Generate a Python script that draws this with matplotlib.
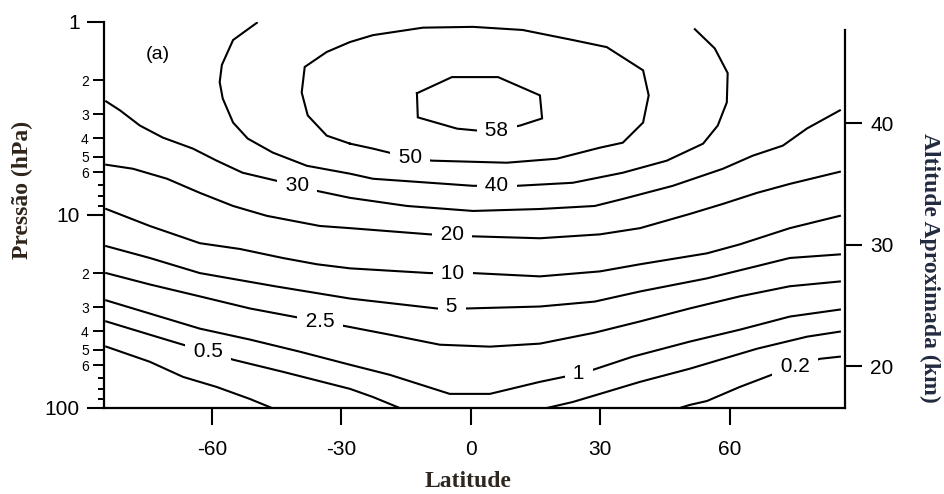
import matplotlib
matplotlib.use("Agg")
import matplotlib.pyplot as plt
import numpy as np
from matplotlib.ticker import NullLocator

# isolines: latitude (deg) and pressure (hPa) along each one
c58_lat = [-12.5, -4.4, 6.3, 16.0, 16.5, 11.4, 6.0, 1.4, -3.2, -12.3, -12.5]
c58_p = [2.34, 1.93, 1.93, 2.40, 3.16, 3.44, 3.65, 3.65, 3.57, 3.12, 2.34]

c50_lat = [-28.0, -33.4, -37.8, -39.2, -38.5, -33.4, -28.0, -22.7, -11.1, 0.5, 12.0,
           23.6, 31.5, 39.9, 41.2, 39.9, 35.2, 29.9, 19.9, 8.3, -9.0, -14.1, -22.7, -28.0]
c50_p = [4.27, 3.88, 3.05, 2.32, 1.71, 1.43, 1.27, 1.17, 1.07, 1.06, 1.10,
         1.24, 1.35, 1.78, 2.40, 3.32, 4.22, 4.48, 5.11, 5.36, 5.23, 5.05, 4.53, 4.27]

c40_lat = [-49.6, -55.1, -57.7, -58.2, -57.5, -55.1, -51.7, -45.9, -38.0, -28.0, -22.7,
           0.5, 10.7, 23.6, 35.2, 45.4, 53.8, 57.2, 59.3, 59.5, 56.5, 51.9]
c40_p = [1.01, 1.24, 1.67, 2.05, 2.49, 3.32, 4.02, 4.75, 5.56, 6.11, 6.49,
         7.06, 7.06, 6.81, 6.04, 5.23, 4.27, 3.44, 2.61, 1.84, 1.37, 1.09]

c30_lat = [-84.5, -81.3, -76.7, -71.4, -64.4, -58.9, -52.9, -45.0, -40.3, -35.7, -28.0,
           -14.8, 0.5, 16.0, 28.7, 35.2, 46.8, 58.4, 65.3, 72.3, 77.9, 85.5]
c30_p = [2.58, 2.87, 3.44, 3.97, 4.53, 5.23, 6.04, 6.65, 7.06, 7.50, 8.15,
         8.98, 9.53, 9.31, 8.98, 8.26, 7.06, 5.76, 4.93, 4.37, 3.56, 2.87]

c20_lat = [-84.5, -78.3, -70.4, -62.8, -55.1, -47.3, -35.0, -28.0, -9.5, 0.5, 16.0,
           29.9, 39.2, 50.7, 58.4, 66.3, 73.9, 85.5]
c20_p = [5.49, 5.76, 6.49, 7.68, 8.98, 10.1, 11.4, 11.7, 12.6, 12.9, 13.2,
         12.6, 11.7, 9.88, 8.76, 7.68, 6.90, 5.97]

c10_lat = [-84.5, -74.4, -62.8, -53.5, -43.6, -35.7, -28.0, -9.5, 0.5, 16.0, 29.9,
           39.2, 54.7, 62.3, 73.9, 85.5]
c10_p = [9.31, 11.4, 14.0, 15.0, 16.7, 18.0, 18.9, 20.0, 20.0, 20.8, 19.6,
         18.0, 15.8, 14.2, 11.7, 10.1]

c5_lat = [-84.5, -74.4, -62.8, -45.4, -28.0, -7.9, -0.9, 16.0, 28.7, 39.2, 54.7,
          66.3, 73.9, 85.5]
c5_p = [14.5, 16.7, 20.0, 23.4, 27.1, 30.5, 30.5, 29.8, 28.1, 24.9, 21.3,
        18.4, 16.7, 16.0]

c25_lat = [-84.5, -74.4, -62.8, -51.2, -41.2, -35.0, -28.7, -18.8, -7.2, 4.4, 16.0,
           28.7, 39.2, 50.7, 62.3, 73.9, 85.5]
c25_p = [20.0, 22.9, 26.4, 30.5, 33.6, 35.6, 37.8, 41.7, 47.0, 48.1, 46.4,
         40.7, 35.6, 30.5, 26.4, 23.4, 22.1]

c1_lat = [-84.5, -74.4, -62.8, -51.2, -39.6, -28.0, -18.8, -4.9, 4.4, 16.0, 25.0,
          28.3, 37.5, 50.7, 62.3, 73.9, 85.5]
c1_p = [27.7, 32.4, 38.8, 44.2, 51.1, 59.7, 67.3, 84.5, 84.5, 73.2, 66.5,
        63.4, 54.2, 45.3, 39.3, 33.6, 30.9]

c05s_lat = [-84.5, -74.4, -66.7, -60.9, -55.1, -43.6, -28.0, -22.7, -16.5]
c05s_p = [35.6, 41.7, 47.0, 51.1, 56.2, 64.9, 79.6, 87.7, 100]
c05n_lat = [17.6, 23.6, 29.9, 39.2, 50.7, 66.3, 77.9, 85.5]
c05n_p = [100, 93.1, 84.5, 73.2, 62.6, 49.3, 42.7, 40.2]

c02s_lat = [-84.5, -74.4, -66.7, -58.9, -51.2, -46.1]
c02s_p = [48.1, 57.6, 69.0, 77.8, 89.8, 100]
c02n_lat = [48.4, 50.7, 54.7, 62.3, 69.7, 75.1, 80.9, 85.5]
c02n_p = [100, 96.4, 92.0, 77.8, 67.3, 61.1, 55.6, 54.2]

# contour labels
labels = ["58", "50", "40", "30", "20", "10", "5", "2.5", "1", "0.5", "0.2"]
label_lat = [6.0, -14.1, 6.0, -40.3, -4.4, -4.2, -4.4, -35.0, 25.0, -60.9, 75.1]
label_p = [3.65, 5.05, 7.06, 7.06, 12.6, 20.0, 29.8, 35.6, 66.5, 51.1, 61.1]

lat_ticks = [-60, -30, 0, 30, 60]
lat_ticklabels = ["-60", "-30", "0", "30", "60"]
p_major = [1, 10, 100]
p_minor = [2, 3, 4, 5, 6, 7, 8, 9, 20, 30, 40, 50, 60, 70, 80, 90]
p_minor_labels = ["2", "3", "4", "5", "6", "", "", "", "2", "3", "4", "5", "6", "", "", ""]
alt_ticks = [20, 30, 40]

SCALE_H = 6.9     # km
P_REF = 1100.0    # hPa


def p_to_km(p):
    p = np.clip(np.asarray(p, dtype=float), 1e-6, None)
    return SCALE_H * np.log(P_REF / p)


def km_to_p(z):
    return P_REF * np.exp(-np.asarray(z, dtype=float) / SCALE_H)


plt.rcParams["font.family"] = ["Liberation Sans", "DejaVu Sans"]

fig = plt.figure(figsize=(9.44, 4.94), dpi=100)
ax = fig.add_axes([0.1102, 0.1741, 0.785, 0.7814])
ax.set_yscale("log")

lines = [
    (c58_lat, c58_p), (c50_lat, c50_p), (c40_lat, c40_p), (c30_lat, c30_p),
    (c20_lat, c20_p), (c10_lat, c10_p), (c5_lat, c5_p), (c25_lat, c25_p),
    (c1_lat, c1_p), (c05s_lat, c05s_p), (c05n_lat, c05n_p),
    (c02s_lat, c02s_p), (c02n_lat, c02n_p),
]
for lat, p in lines:
    ax.plot(lat, p, color="black", lw=1.5, solid_joinstyle="miter", zorder=2)

for text, lat, p in zip(labels, label_lat, label_p):
    ax.text(lat, p, f" {text} ", fontsize=15, ha="center", va="center", zorder=3,
            bbox=dict(boxstyle="square,pad=0.12", fc="white", ec="none"))

ax.set_xlim(-85, 86.7)
ax.set_ylim(100, 1)

for side in ("top", "right"):
    ax.spines[side].set_visible(False)
for side in ("left", "bottom"):
    ax.spines[side].set_linewidth(1.6)

ax.set_xticks(lat_ticks, lat_ticklabels)
ax.tick_params(axis="x", direction="out", length=12, width=1.5, labelsize=15, pad=11)

ax.set_yticks(p_major, [str(v) for v in p_major])
ax.set_yticks(p_minor, p_minor_labels, minor=True)
ax.tick_params(axis="y", which="major", direction="out", length=12.5, width=1.5,
               labelsize=15, pad=5)
ax.tick_params(axis="y", which="minor", direction="out", length=8, width=1.4,
               labelsize=10, pad=3)
for tick, lab in zip(ax.yaxis.get_minor_ticks(), p_minor_labels):
    if not lab:
        tick.tick1line.set_markersize(4.5)

sec = ax.secondary_yaxis("right", functions=(p_to_km, km_to_p))
sec.set_yticks(alt_ticks, [str(v) for v in alt_ticks])
sec.yaxis.set_minor_locator(NullLocator())
sec.tick_params(direction="out", length=12, width=1.5, labelsize=15, pad=6)
sec.spines["right"].set_linewidth(1.6)
sec.spines["right"].set_bounds(p_to_km(100), p_to_km(1.1))

ax.text(0.073, 0.915, "(a)", transform=ax.transAxes, fontsize=14,
        ha="center", va="center")

serif = dict(family="Liberation Serif", weight="bold", fontsize=17)
fig.text(468 / 944, 1 - 481 / 494, "Latitude", ha="center", va="center",
         color="#2e2720", **serif)
fig.text(22 / 944, 1 - 190 / 494, "Pressão (hPa)", rotation=90, ha="center",
         va="center", color="#2e241a", **serif)
fig.text(930 / 944, 1 - 268 / 494, "Altitude Aproximada (km)", rotation=-90,
         ha="center", va="center", color="#222a40", **serif)

fig.savefig("out.png", dpi=100, facecolor="white")
